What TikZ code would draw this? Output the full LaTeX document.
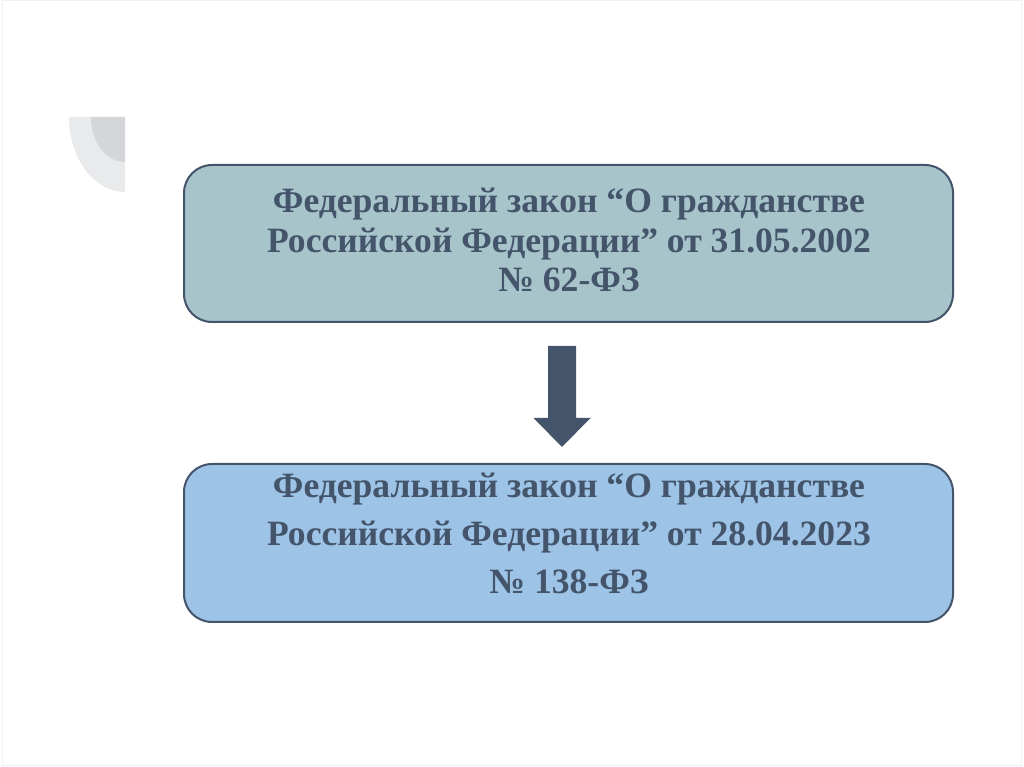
\documentclass[tikz,border=0pt]{standalone}
\usepackage{fontspec}
\setmainfont{Liberation Serif}
\usetikzlibrary{calc}
\definecolor{slate}{HTML}{44546A}
\definecolor{topfill}{HTML}{A6C4CA}
\definecolor{botfill}{HTML}{9DC3E6}
\definecolor{decoA}{HTML}{E9EAEC}
\definecolor{decoB}{HTML}{D4D6DA}
\definecolor{frame}{HTML}{F0F0F0}
\begin{document}
\begin{tikzpicture}[x=1pt,y=1pt,
  lawbox/.style={draw=slate, line width=2pt, rounded corners=28pt,
    minimum width=769pt, minimum height=157pt, inner sep=0pt},
  lawtext/.style={text=slate, font=\bfseries\fontsize{35.6}{39.5}\selectfont,
    align=center, anchor=base, inner sep=0pt}]
\useasboundingbox (0,0) rectangle (1024,767);
\fill[white] (0,0) rectangle (1024,767);
\draw[frame, line width=1pt] (2.5,1.5) rectangle (1021.5,766);
% corner decoration
\fill[decoA] (125,650) -- (69,650) arc[start angle=180, end angle=270, x radius=56, y radius=75] -- cycle;
\fill[decoB] (125,650) -- (91,650) arc[start angle=180, end angle=270, x radius=34, y radius=45] -- cycle;
% boxes
\node[lawbox, fill=topfill] (box1) at (568.5,523.5) {};
\node[lawbox, fill=botfill, minimum height=158pt] (box2) at (568.5,224) {};
\node[lawtext] (t1) at (569,475) {Федеральный закон “О гражданстве\\Российской Федерации” от 31.05.2002\\№ 62-ФЗ};
\node[lawtext, font=\bfseries\fontsize{35.6}{48}\selectfont] (t2) at (569,173) {Федеральный закон “О гражданстве\\Российской Федерации” от 28.04.2023\\№ 138-ФЗ};
% block arrow
\coordinate (atop) at ($(box1.south)+(-6.5,-23)$);
\coordinate (atip) at ($(box2.north)+(-6.5,16)$);
\fill[slate] ($(atop)+(-14,0)$) -- ($(atop)+(14,0)$) -- ($(atip)+(14,29)$) -- ($(atip)+(28.5,29)$)
  -- (atip) -- ($(atip)+(-28.5,29)$) -- ($(atip)+(-14,29)$) -- cycle;
\end{tikzpicture}
\end{document}
